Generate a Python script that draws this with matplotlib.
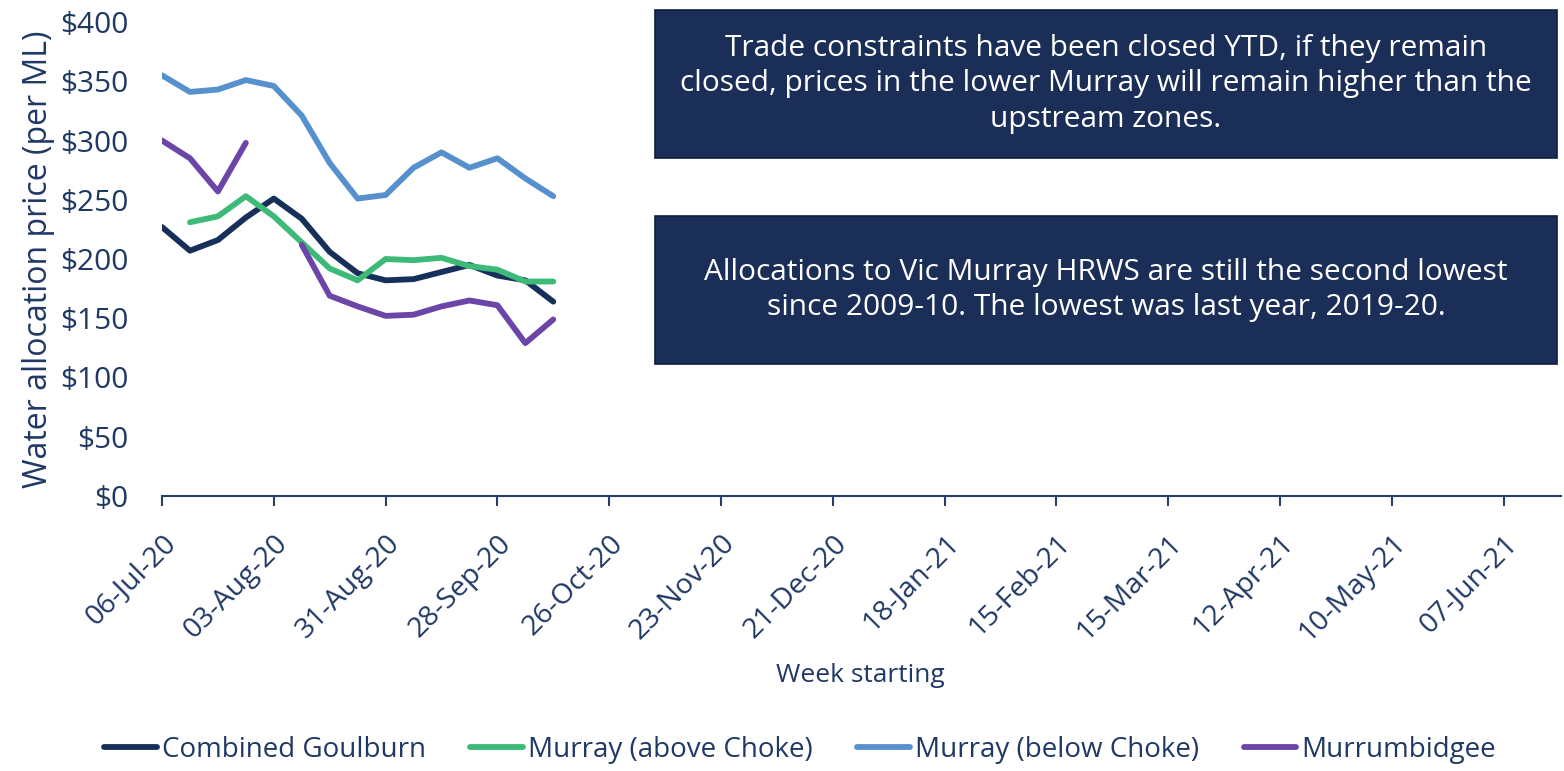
import matplotlib.pyplot as plt
import matplotlib.dates as mdates
from matplotlib.patches import Rectangle
import numpy as np
import pandas as pd

# weekly prices ($/ML)
weeks = pd.date_range("2020-07-06", periods=15, freq="7D")
combined_goulburn = [227, 207, 216, 235, 251, 234, 206, 188, 182, 183, 189, 195, 186, 182, 164]
murray_above = [np.nan, 231, 236, 253, 236, 214, 192, 182, 200, 199, 201, 194, 191, 181, 181]
murray_below = [355, 341, 343, 351, 346, 321, 281, 251, 254, 277, 290, 277, 285, 268, 253]
murrumbidgee = [300, 285, 257, 298, np.nan, 212, 169, 160, 152, 153, 160, 165, 161, 129, 149]

series_names = ["Combined Goulburn", "Murray (above Choke)", "Murray (below Choke)", "Murrumbidgee"]
series_colors = ["#17305a", "#3dba78", "#5791cd", "#6b46a8"]

note_top = ("Trade constraints have been closed YTD, if they remain\n"
            "closed, prices in the lower Murray will remain higher than the\n"
            "upstream zones.")
note_bottom = ("Allocations to Vic Murray HRWS are still the second lowest\n"
               "since 2009-10. The lowest was last year, 2019-20.")

text_col = "#1f3864"
box_col = "#1a2e57"
plt.rcParams['font.family'] = ['Open Sans', 'DejaVu Sans']

W, H = 1564, 771
fig = plt.figure(figsize=(W / 100, H / 100), dpi=100)
ax = fig.add_axes([162 / W, (H - 496) / H, (1561 - 162) / W, (496 - 22) / H])

for vals, name, col in zip([combined_goulburn, murray_above, murray_below, murrumbidgee],
                           series_names, series_colors):
    ax.plot(weeks, vals, color=col, lw=4.2, label=name, solid_capstyle='round',
            solid_joinstyle='round')

start = pd.Timestamp("2020-07-06")
ax.set_xlim(start, start + pd.Timedelta(days=350.4))
ax.set_ylim(0, 400)
ax.set_yticks(range(0, 401, 50))
ax.yaxis.set_major_formatter(plt.FuncFormatter(lambda v, p: f"${v:.0f}"))
ax.set_xticks(pd.date_range("2020-07-06", "2021-06-07", freq="28D"))
ax.xaxis.set_major_formatter(mdates.DateFormatter("%d-%b-%y"))

for s in ["top", "right", "left"]:
    ax.spines[s].set_visible(False)
ax.spines["bottom"].set_color("#2a3f66")
ax.spines["bottom"].set_linewidth(1.5)
ax.tick_params(axis='y', length=0, labelsize=21.5, labelcolor=text_col, pad=24)
ax.tick_params(axis='x', length=7, width=1.5, color="#2a3f66", labelsize=20.5,
               labelcolor=text_col, pad=17)
for lbl in ax.get_xticklabels():
    lbl.set_rotation(45)
    lbl.set_ha('right')
    lbl.set_rotation_mode('anchor')

ax.set_ylabel("Water allocation price (per ML)", fontsize=23, color=text_col, labelpad=4)
fig.text(860 / W, 1 - 675 / H, "Week starting", fontsize=19, color=text_col,
         ha='center', va='center')

# annotation boxes
for (y0, y1), txt in zip([(10, 158), (216, 364)], [note_top, note_bottom]):
    fig.add_artist(Rectangle((655 / W, 1 - y1 / H), (1557 - 655) / W, (y1 - y0) / H,
                             transform=fig.transFigure, facecolor=box_col,
                             edgecolor="#0f1f3d", lw=1.2))
    fig.text((655 + 1557) / 2 / W, 1 - (y0 + y1) / 2 / H, txt, color="white",
             fontsize=21.5, ha='center', va='center', linespacing=1.3)

fig.legend(loc='center', bbox_to_anchor=(800 / W, 1 - 750 / H), ncol=4, frameon=False,
           fontsize=20, labelcolor=text_col, handlelength=1.9, handletextpad=0.18,
           columnspacing=1.6)

fig.savefig("out.png", dpi=100)
